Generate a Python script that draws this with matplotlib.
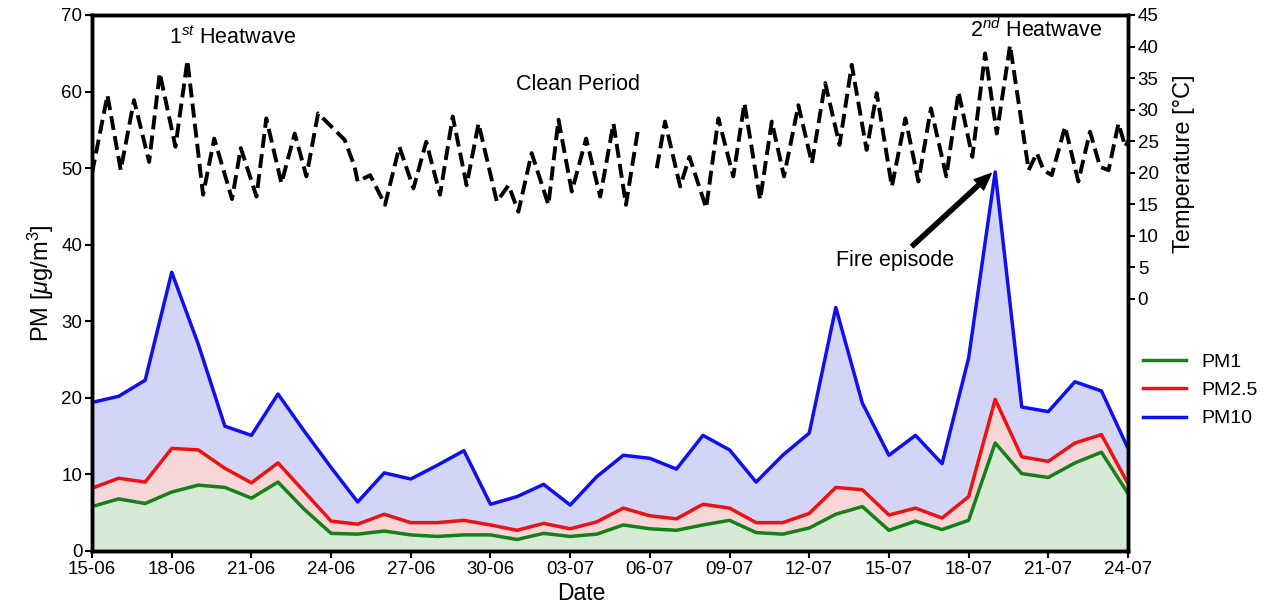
import matplotlib
matplotlib.use('Agg')
import matplotlib.pyplot as plt
import numpy as np

plt.rcParams['font.family'] = ['Liberation Sans', 'DejaVu Sans']
plt.rcParams['mathtext.fontset'] = 'custom'
plt.rcParams['mathtext.rm'] = 'Liberation Sans'
plt.rcParams['mathtext.it'] = 'Liberation Sans:italic'

# Daily PM values, 15-06 ... 24-07
pm_days = np.arange(40)
pm10 = [19.4, 20.2, 22.3, 36.4, 27.0, 16.3, 15.1, 20.5, 15.6, 10.9,
        6.4, 10.2, 9.4, 11.2, 13.1, 6.1, 7.1, 8.7, 6.0, 9.7,
        12.5, 12.1, 10.7, 15.1, 13.2, 9.0, 12.5, 15.4, 31.8, 19.3,
        12.5, 15.1, 11.4, 25.2, 49.5, 18.8, 18.2, 22.1, 20.9, 13.4]
pm25 = [8.2, 9.5, 9.0, 13.4, 13.2, 10.8, 8.9, 11.5, 7.7, 3.9,
        3.5, 4.8, 3.7, 3.7, 4.0, 3.4, 2.7, 3.6, 2.9, 3.8,
        5.6, 4.6, 4.2, 6.1, 5.6, 3.7, 3.7, 4.9, 8.3, 8.0,
        4.7, 5.6, 4.3, 7.1, 19.8, 12.3, 11.7, 14.1, 15.2, 8.8]
pm1 = [5.8, 6.8, 6.2, 7.7, 8.6, 8.3, 6.9, 9.0, 5.4, 2.3,
       2.2, 2.6, 2.1, 1.9, 2.1, 2.1, 1.5, 2.3, 1.9, 2.2,
       3.4, 2.9, 2.7, 3.4, 4.0, 2.4, 2.2, 3.0, 4.8, 5.8,
       2.7, 3.9, 2.8, 4.0, 14.1, 10.1, 9.6, 11.5, 12.9, 7.5]

# Temperature (daily highs/lows, day offset from 15-06), NaN = missing data
temp_day = [0.0, 0.58, 1.08, 1.58, 2.15, 2.55, 3.14, 3.59, 4.18, 4.6,
            5.27, 5.6, 6.19, 6.56, 7.13, 7.63, 8.07, 8.51, 9.51, 9.88,
            10.0, 10.47, 11.03, 11.57, 12.1, 12.58, 13.1, 13.58, 14.1, 14.55,
            15.24, 15.68, 16.05, 16.55, 17.18, 17.56, 18.06, 18.6, 19.13, 19.63,
            20.1, 20.56, 20.9, 21.26, 21.57, 22.14, 22.49, 23.12, 23.58, 24.14,
            24.56, 25.15, 25.59, 26.05, 26.59, 27.1, 27.6, 28.14, 28.6, 29.16,
            29.54, 30.11, 30.62, 31.11, 31.58, 32.16, 32.62, 33.14, 33.62, 34.06,
            34.56, 35.26, 35.57, 35.82, 36.13, 36.63, 37.13, 37.57, 37.95, 38.27,
            38.64, 38.9, 39.0]
temp_val = [19.9, 32.3, 20.4, 31.5, 21.7, 35.8, 24.1, 37.8, 16.5, 25.4,
            15.8, 23.9, 16.2, 28.6, 18.3, 26.2, 19.4, 29.4, 25.2, 21.0,
            18.6, 19.6, 14.9, 24.1, 17.5, 24.9, 16.5, 28.9, 18.0, 27.8,
            15.4, 18.0, 13.8, 23.1, 14.9, 28.4, 17.0, 25.4, 16.2, 27.8,
            14.9, 27.0, np.nan, 20.7, 28.1, 17.8, 22.5, 14.4, 28.6, 19.4,
            31.0, 15.7, 28.1, 19.4, 30.7, 21.5, 34.2, 24.4, 37.1, 23.6,
            32.6, 17.8, 28.6, 18.6, 30.2, 19.4, 32.8, 22.5, 38.9, 26.2,
            40.2, 20.4, 23.1, 20.4, 19.6, 27.3, 18.6, 26.5, 20.9, 20.4,
            27.8, 24.1, 25.0]

tick_pos = np.arange(0, 40, 3)
tick_labels = ['15-06', '18-06', '21-06', '24-06', '27-06', '30-06', '03-07',
               '06-07', '09-07', '12-07', '15-07', '18-07', '21-07', '24-07']

fig = plt.figure(figsize=(12.73, 6.07), dpi=100)
ax = fig.add_axes([0.0723, 0.0923, 0.8138, 0.883])

ax.fill_between(pm_days, 0, pm10, color='#d3d5f7', lw=0)
ax.fill_between(pm_days, 0, pm25, color='#f7d6d8', lw=0)
ax.fill_between(pm_days, 0, pm1, color='#d6ead6', lw=0)
ax.plot(pm_days, pm1, color='#14801a', lw=2.5, label='PM1')
ax.plot(pm_days, pm25, color='#ee1111', lw=2.5, label='PM2.5')
ax.plot(pm_days, pm10, color='#1010ee', lw=2.5, label='PM10')

ax.set_xlim(0, 39)
ax.set_ylim(0, 70)
ax.set_yticks(np.arange(0, 71, 10))
ax.set_xticks(tick_pos)
ax.set_xticklabels(tick_labels)
ax.set_xlabel('Date', fontsize=16.5)
ax.xaxis.set_label_coords(0.472, -0.058)
ax.set_ylabel(r'PM [$\mu$g/m$^3$]', fontsize=17, labelpad=4)
ax.tick_params(labelsize=13.5, width=1.5, length=5, pad=2)

ax2 = ax.twinx()
ax2.plot(temp_day, temp_val, color='black', lw=2.8, ls=(0, (3.6, 1.6)))
ax2.set_ylim(-40, 45)
ax2.set_yticks(np.arange(0, 46, 5))
ax2.set_ylabel('Temperature [°C]', fontsize=17)
ax2.yaxis.set_label_coords(1.0435, 0.722)
ax2.tick_params(labelsize=13.5, width=1.5, length=5, pad=2)

for a in (ax, ax2):
    for s in a.spines.values():
        s.set_linewidth(2.5)

ax.text(5.27, 67.1, r'1$^{st}$ Heatwave', fontsize=15.5, ha='center', va='center')
ax.text(18.3, 60.9, 'Clean Period', fontsize=15.5, ha='center', va='center')
ax.text(35.54, 68.0, r'2$^{nd}$ Heatwave', fontsize=15.5, ha='center', va='center')
ax.text(30.23, 37.9, 'Fire episode', fontsize=15.5, ha='center', va='center')
ax.annotate('', xy=(33.85, 49.3), xytext=(30.87, 39.8),
            arrowprops=dict(facecolor='black', edgecolor='black',
                            width=3, headwidth=10, headlength=12, shrink=0))

ax.legend(loc='upper left', bbox_to_anchor=(1.0145, 0.369), frameon=False,
          fontsize=14, handlelength=2.2, labelspacing=0.55,
          borderaxespad=0, borderpad=0, handletextpad=0.8)

fig.savefig('out.png', dpi=100)
